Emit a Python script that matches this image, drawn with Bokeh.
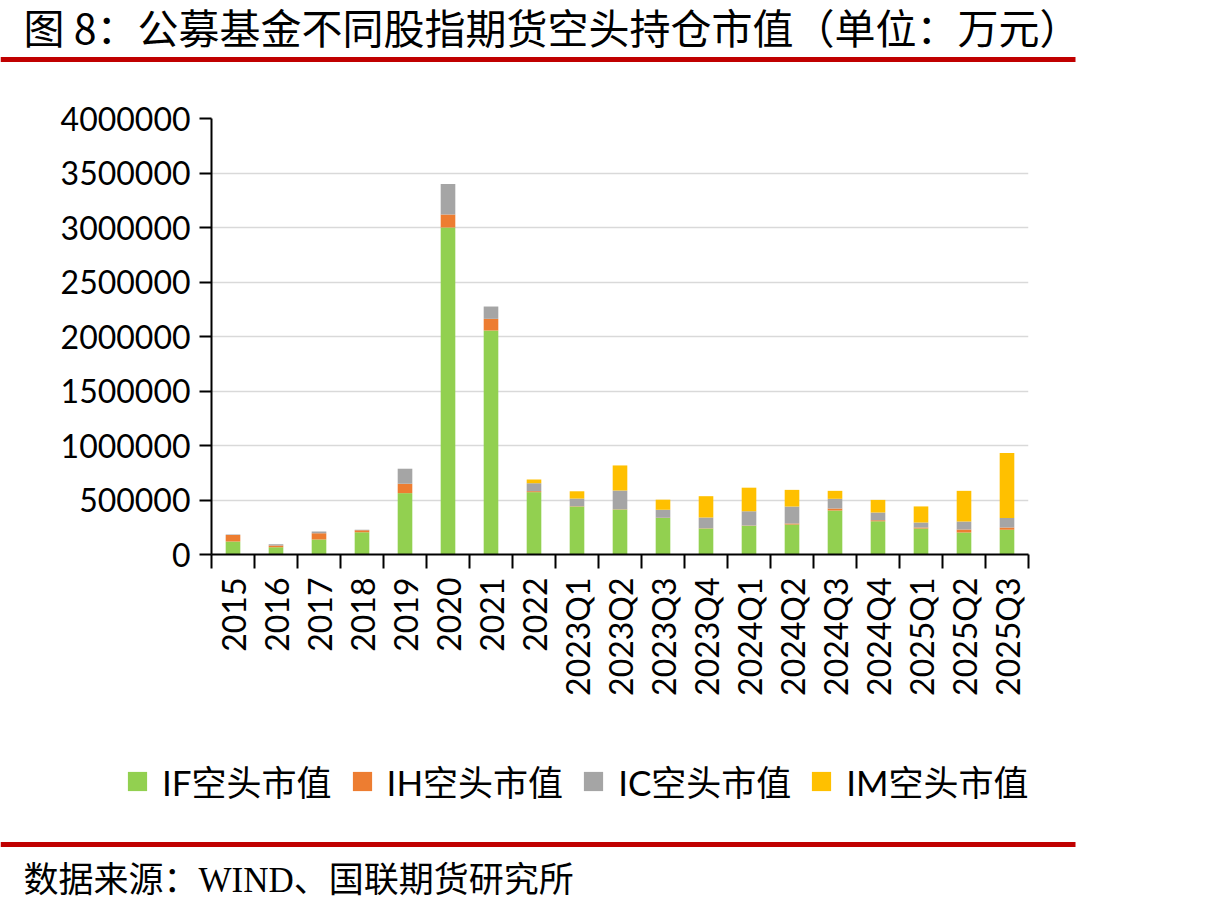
import math
from bokeh.plotting import figure
from bokeh.layouts import column
from bokeh.core.properties import value
from bokeh.models import (Range1d, FixedTicker, ColumnDataSource, Legend, LegendItem,
                          BasicTickFormatter)
from bokeh.embed import file_html
from bokeh.resources import INLINE

# 公募基金股指期货空头持仓市值（万元）
categories = ["2015", "2016", "2017", "2018", "2019", "2020", "2021", "2022",
              "2023Q1", "2023Q2", "2023Q3", "2023Q4", "2024Q1", "2024Q2",
              "2024Q3", "2024Q4", "2025Q1", "2025Q2", "2025Q3"]
if_short = [120000, 67000, 138000, 205000, 563000, 3000000, 2055000, 572000,
            440000, 412000, 336000, 239000, 263000, 275000, 404000, 306000,
            239000, 202000, 226000]
ih_short = [60000, 15000, 58000, 18000, 86000, 120000, 107000, 9000,
            3000, 3000, 2000, 2000, 2000, 9000, 18000, 9000,
            9000, 28000, 21000]
ic_short = [3000, 12000, 15000, 3000, 138000, 280000, 113000, 73000,
            70000, 172000, 73000, 98000, 131000, 156000, 89000, 70000,
            46000, 73000, 89000]
im_short = [0, 0, 0, 0, 0, 0, 0, 34000,
            67000, 230000, 92000, 196000, 217000, 153000, 73000, 116000,
            147000, 281000, 596000]
series_names = ["IF空头市值", "IH空头市值", "IC空头市值", "IM空头市值"]
y_ticks = [0, 500000, 1000000, 1500000, 2000000, 2500000, 3000000, 3500000, 4000000]
title_text = "图 8：公募基金不同股指期货空头持仓市值（单位：万元）"
source_text = "数据来源：WIND、国联期货研究所"

colors = ["#92D050", "#ED7D31", "#A5A5A5", "#FFC000"]
RULE_RED = "#C00000"
LATIN = "Lato"
CJK_MIX = "Lato, 'Noto Sans CJK SC'"

# page geometry (pixels)
W = 1222
HEAD_H, FOOT_H = 70, 174
MAIN_H = 914 - HEAD_H - FOOT_H
LEFT, RIGHT = 211, 1028            # plot frame, x
TOP, BOTTOM = 118, 554             # plot frame, y (page coordinates)


def banner(height, y0):
    """A borderless strip whose data units are page pixels (y grows downward)."""
    f = figure(width=W, height=height, output_backend="svg", toolbar_location=None,
               x_range=Range1d(0, W), y_range=Range1d(y0 + height, y0),
               x_axis_type=None, y_axis_type=None, min_border=0, frame_align=False)
    f.outline_line_color = None
    f.grid.grid_line_color = None
    f.background_fill_color = "white"
    f.border_fill_color = "white"
    return f


# heading strip: title and red rule
head = banner(HEAD_H, 0)
head.text(x=[23], y=[25], text=[title_text], text_font=value("Noto Sans CJK SC"),
          text_font_size="41px", text_color="black",
          text_baseline="middle", text_align="left")
head.quad(left=[0], right=[1075], top=[56.5], bottom=[61.5],
          fill_color=RULE_RED, line_color=None)

# chart
n = len(categories)
xs = list(range(n))
source = ColumnDataSource(dict(x=xs, IF=if_short, IH=ih_short, IC=ic_short, IM=im_short))

p = figure(width=W, height=MAIN_H, output_backend="svg", toolbar_location=None,
           x_range=Range1d(-0.5, n - 0.5), y_range=Range1d(0, 4000000),
           min_border_left=LEFT, min_border_right=W - RIGHT,
           min_border_top=TOP - HEAD_H, min_border_bottom=HEAD_H + MAIN_H - BOTTOM,
           frame_align=False)
p.outline_line_color = None
p.background_fill_color = "white"
p.border_fill_color = "white"

p.vbar_stack(["IF", "IH", "IC", "IM"], x="x", width=0.34, color=colors,
             line_color=None, source=source)

yax = p.yaxis[0]
yax.ticker = FixedTicker(ticks=y_ticks)
yax.formatter = BasicTickFormatter(use_scientific=False)
yax.major_label_text_font = LATIN
yax.major_label_text_font_size = "32px"
yax.major_label_text_color = "black"
yax.major_tick_out = 12
yax.major_tick_in = 0
yax.minor_tick_line_color = None
yax.major_tick_line_width = 2
yax.axis_line_width = 2
yax.major_label_standoff = 9

# x axis: labels at category centres, tick marks at category boundaries
xax = p.xaxis[0]
xax.ticker = FixedTicker(ticks=xs, minor_ticks=[i - 0.5 for i in range(n + 1)])
xax.major_label_overrides = {i: c for i, c in enumerate(categories)}
xax.major_label_orientation = math.pi / 2
xax.major_label_text_font = LATIN
xax.major_label_text_font_size = "32px"
xax.major_label_text_color = "black"
xax.major_tick_out = 0
xax.major_tick_in = 0
xax.major_tick_line_color = None
xax.minor_tick_out = 14
xax.minor_tick_in = 0
xax.minor_tick_line_width = 2
xax.minor_tick_line_color = "black"
xax.axis_line_width = 2
xax.major_label_standoff = 9

p.xgrid.grid_line_color = None
p.ygrid.grid_line_color = "#D9D9D9"
p.ygrid.grid_line_width = 1.5

# footer strip: legend, red rule and source note
y_foot = HEAD_H + MAIN_H
foot = banner(FOOT_H, y_foot)
# legend swatches: zero-area renderers carrying each series' fill colour
swatches = [foot.quad(left=[0], right=[0], top=[y_foot], bottom=[y_foot],
                      fill_color=c, line_color=None) for c in colors]
legend = Legend(items=[LegendItem(label=name, renderers=[r]) for name, r in zip(series_names, swatches)],
                orientation="horizontal", location=(125, 108),
                glyph_width=24, glyph_height=24, label_standoff=13, spacing=18,
                padding=0, margin=0, border_line_color=None, background_fill_alpha=0,
                label_text_font=CJK_MIX, label_text_font_size="35px",
                label_text_color="black")
foot.add_layout(legend)
foot.quad(left=[0], right=[1075], top=[841.5], bottom=[846.5],
          fill_color=RULE_RED, line_color=None)
foot.text(x=[23], y=[880], text=[source_text],
          text_font=value("'Liberation Serif', 'Noto Sans CJK SC'"), text_font_size="35px",
          text_color="black", text_baseline="middle", text_align="left")

page = column(head, p, foot, spacing=0)
open("out.html", "w").write(file_html(page, INLINE))
